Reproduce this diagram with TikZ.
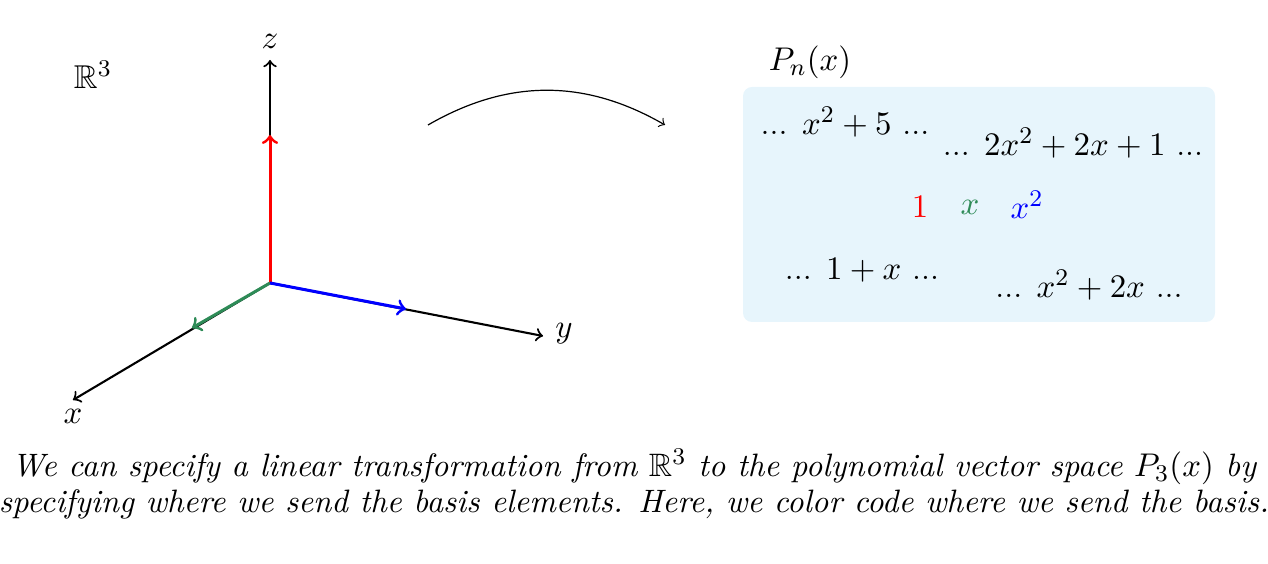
\documentclass[tikz,border=0pt]{standalone}
\usepackage{amssymb}
\definecolor{boxblue}{RGB}{231,245,252}
\definecolor{vgreen}{RGB}{46,139,87}
\tikzset{
  lbl/.style={font=\fontsize{11}{13.6}\selectfont, inner sep=0pt},
  poly/.style={font=\fontsize{11}{13.6}\selectfont, inner sep=0pt},
  axis/.style={->, line width=0.7pt, black},
  basisvec/.style={->, line width=1pt},
}
\begin{document}
\begin{tikzpicture}[x=0.33333pt,y=-0.33333pt]
\useasboundingbox (0,0) rectangle (1268,564);
% axes
\coordinate (O) at (270,283);
\coordinate (Z) at (270,60);
\coordinate (X) at (73,400);
\coordinate (Y) at (543,336);
\coordinate (e1) at (192,328);
\coordinate (e2) at (406,309);
\coordinate (e3) at (270,135);
\draw[axis] (O) -- (Z);
\draw[axis] (O) -- (X);
\draw[axis] (O) -- (Y);
\draw[basisvec, red] (O) -- (e3);
\draw[basisvec, vgreen] (O) -- (e1);
\draw[basisvec, blue] (O) -- (e2);
\node[lbl] (zl) at (270,41) {$z$};
\node[lbl] (yl) at (564,334) {$y$};
\node[lbl] (xl) at (73,416) {$x$};
\node[lbl] (R3) at (93,75) {$\mathbb{R}^3$};
% map arrow
\coordinate (m1) at (428,125);
\coordinate (m2) at (665,125);
\draw[->] (m1) to[bend left=30] (m2);
% polynomial space
\node[fill=boxblue, rounded corners=3pt, minimum width=157.33pt, minimum height=78.33pt, inner sep=0pt] (box) at (979,204.5) {};
\node[lbl] (Pn) at (810,62) {$P_n(x)$};
\node[poly] (p1) at (845,122) {... $x^2+5$ ...};
\node[poly] (p2) at (1073,143) {... $2x^2+2x+1$ ...};
\node[poly] (p3) at (862,270) {... $1+x$ ...};
\node[poly] (p4) at (1089,285) {... $x^2+2x$ ...};
\node[poly, text=red] (b1) at (920,207) {$1$};
\node[poly, text=vgreen] (b2) at (970,207) {$x$};
\node[poly, text=blue] (b3) at (1027,205) {$x^2$};
% caption
\node[font=\fontsize{10.8}{12}\selectfont\itshape, align=center, inner sep=0pt] (cap) at (634,484)
  {We can specify a linear transformation from $\mathbb{R}^3$ to the polynomial vector space $P_3(x)$ by\\
   specifying where we send the basis elements. Here, we color code where we send the basis.};
\end{tikzpicture}
\end{document}
